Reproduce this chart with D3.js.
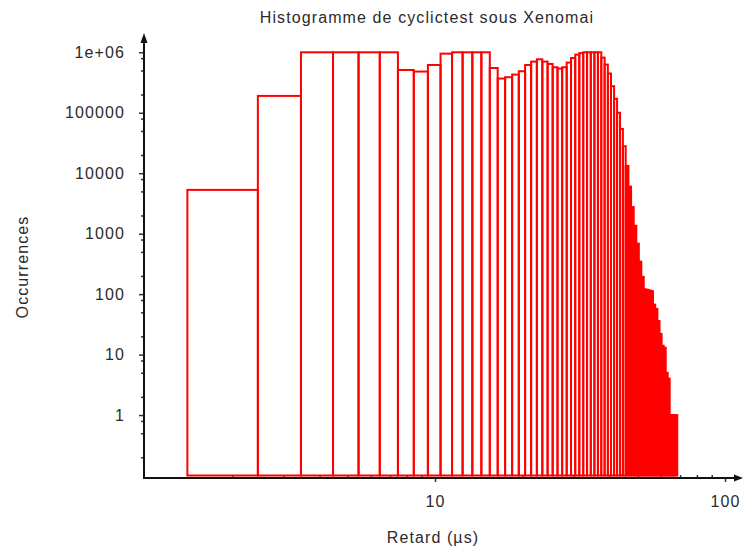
<!DOCTYPE html>
<html>
<head>
<meta charset="utf-8">
<script src="https://cdn.jsdelivr.net/npm/d3@7"></script>
<style>
  html, body { margin: 0; padding: 0; background: #ffffff; }
  svg { display: block; }
  text { font-family: "Liberation Sans", Arial, sans-serif; font-size: 16px; fill: #2b2b2b; letter-spacing: 1.1px; }
</style>
</head>
<body>
<svg id="chart" width="744" height="547"></svg>
<script>
// ---- data ----
const chartTitle = "Histogramme de cyclictest sous Xenomai";
const xTitle = "Retard (µs)";
const yTitle = "Occurrences";

// histogram bins: delay (µs) and number of occurrences
const delays = [2, 3, 4, 5, 6, 7, 8, 9, 10, 11, 12, 13, 14, 15, 16, 17, 18, 19, 20,
  21, 22, 23, 24, 25, 26, 27, 28, 29, 30, 31, 32, 33, 34, 35, 36, 37, 38, 39, 40,
  41, 42, 43, 44, 45, 46, 47, 48, 49, 50, 51, 52, 53, 54, 55, 56, 57, 58, 59, 60,
  61, 62, 63, 64, 65, 66, 67, 68];
const counts = [5300, 190000, 1000000, 1000000, 1000000, 1000000, 510000, 480000, 617000,
  950000, 1000000, 1000000, 1000000, 1000000, 550000, 368000, 387000, 428000, 486000,
  617000, 702000, 766000, 702000, 641000, 565000, 538000, 565000, 676000, 805000,
  916000, 970000, 1000000, 1000000, 1000000, 1000000, 1000000, 817000, 627000, 446000,
  275000, 170000, 100000, 54000, 28000, 13200, 6000, 2750, 1350, 684, 345, 193,
  120, 118, 115, 112, 67, 57, 36, 22, 14, 13, 5, 4, 1, 1, 1, 1];
const binWidth = 1;
const binStartOffset = -0.55;
const firstBinLower = 1.4;

const yTickValues = [1, 10, 100, 1000, 10000, 100000, 1000000];
const yTickLabels = ["1", "10", "100", "1000", "10000", "100000", "1e+06"];
const yMinorFactors = [2, 5, 8];
const xTickValues = [10, 100];
const xTickLabels = ["10", "100"];
const xMinorFactors = [2, 3, 4, 5, 6, 7, 8, 9];

// ---- scales ----
const svg = d3.select("#chart");
const x = d3.scaleLog().domain([1, 100]).range([145, 725]);
const y = d3.scaleLog().domain([0.1, 1e6]).range([475.5, 52.3]);
const axisX = 144, axisY = 478;

const bins = delays.map((d, i) => ({
  lo: i === 0 ? firstBinLower : d + binStartOffset,
  hi: d + binStartOffset + binWidth,
  v: counts[i]
}));

// minor tick values
const yMinor = [];
for (let e = -1; e < 6; e++) yMinorFactors.forEach(f => yMinor.push(f * Math.pow(10, e)));
const xMinor = [];
for (let e = 0; e < 2; e++) xMinorFactors.forEach(f => xMinor.push(f * Math.pow(10, e)));

// ---- axes ticks ----
const gyMinor = svg.append("g").attr("transform", `translate(${axisX},0)`)
  .call(d3.axisLeft(y).tickValues(yMinor.filter(v => v > 0.1 && v < 1e6)).tickSize(3).tickFormat(""));
const gy = svg.append("g").attr("transform", `translate(${axisX},0)`)
  .call(d3.axisLeft(y).tickValues(yTickValues).tickSize(5).tickPadding(14)
    .tickFormat((d, i) => yTickLabels[i]));
const gxMinor = svg.append("g").attr("transform", `translate(0,${axisY})`)
  .call(d3.axisTop(x).tickValues(xMinor.filter(v => v < 113)).tickSize(3).tickFormat(""));
const gx = svg.append("g").attr("transform", `translate(0,${axisY})`)
  .call(d3.axisBottom(x).tickValues(xTickValues).tickSize(4).tickPadding(14)
    .tickFormat((d, i) => xTickLabels[i]));

[gyMinor, gy, gxMinor, gx].forEach(g => {
  g.select(".domain").remove();
  g.selectAll("line").attr("stroke", "#333").attr("stroke-width", 1.5);
  g.selectAll("text").attr("font-family", null).attr("font-size", null).attr("fill", "#2b2b2b");
});

// ---- bars (outlined; very narrow bins render as solid red) ----
svg.append("g").selectAll("rect").data(bins).join("rect")
  .attr("x", d => x(d.lo))
  .attr("width", d => x(d.hi) - x(d.lo))
  .attr("y", d => y(d.v))
  .attr("height", d => y(0.1) - y(d.v))
  .attr("fill", d => (x(d.hi) - x(d.lo)) < 2.75 ? "#ff0000" : "none")
  .attr("stroke", "#ff0000")
  .attr("stroke-width", 2);

// ---- axis lines with arrows ----
svg.append("line").attr("x1", axisX).attr("x2", axisX).attr("y1", axisY + 1).attr("y2", 40)
  .attr("stroke", "#111").attr("stroke-width", 2);
svg.append("path").attr("d", `M${axisX},33 L${axisX - 3.5},43 L${axisX + 3.5},43 Z`).attr("fill", "#111");
svg.append("line").attr("x1", axisX - 1).attr("x2", 737).attr("y1", axisY).attr("y2", axisY)
  .attr("stroke", "#111").attr("stroke-width", 2);
svg.append("path").attr("d", `M743,${axisY} L734,${axisY - 3.5} L734,${axisY + 3.5} Z`).attr("fill", "#111");

// ---- titles ----
svg.append("text").attr("x", 427).attr("y", 23).attr("text-anchor", "middle").text(chartTitle);
svg.append("text").attr("x", 433).attr("y", 543).attr("text-anchor", "middle").text(xTitle);
svg.append("text").attr("transform", "translate(28,267) rotate(-90)").attr("text-anchor", "middle").text(yTitle);
</script>
</body>
</html>
